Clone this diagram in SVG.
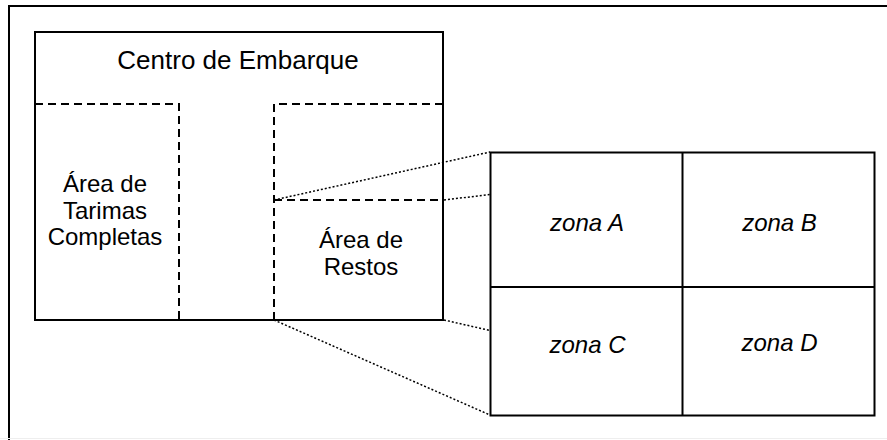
<svg xmlns="http://www.w3.org/2000/svg" width="887" height="440" viewBox="0 0 887 440">
<style>
.solid{fill:none;stroke:#000;stroke-width:2}
.dash{fill:none;stroke:#000;stroke-width:2;stroke-dasharray:8 5}
.dot{fill:none;stroke:#000;stroke-width:1.5;stroke-dasharray:2 2}
.t{font-family:"Liberation Sans",Arial,sans-serif;font-size:24px;fill:#000;text-anchor:middle}
.i{font-style:italic}
</style>
<rect width="887" height="440" fill="#fff"/>
<g id="frame">
<path class="solid" d="M9,441 V6 H888"/>
<line x1="0" y1="438.5" x2="887" y2="438.5" stroke="#eeeeee" stroke-width="1"/>
</g>
<g id="centro">
<rect class="solid" x="35" y="32" width="408" height="288"/>
<text class="t" x="238" y="69" style="font-size:26px">Centro de Embarque</text>
</g>
<g id="tarimas">
<path class="dash" d="M35,104 H179 V320"/>
<text class="t" x="105" y="192">Área de</text>
<text class="t" x="105" y="218.5">Tarimas</text>
<text class="t" x="105" y="245">Completas</text>
</g>
<g id="restos">
<path class="dash" d="M274,320 V104 H443"/>
<path class="dash" d="M274,200 H443"/>
<text class="t" x="361" y="248">Área de</text>
<text class="t" x="361" y="274.5">Restos</text>
</g>
<g id="zonas">
<rect class="solid" x="490.5" y="152.5" width="384" height="263"/>
<line class="solid" x1="682.5" y1="152.5" x2="682.5" y2="415.5"/>
<line class="solid" x1="490.5" y1="287" x2="874.5" y2="287"/>
</g>
<g id="zonaA"><text class="t i" x="587" y="231">zona A</text></g>
<g id="zonaB"><text class="t i" x="779.5" y="231">zona B</text></g>
<g id="zonaC"><text class="t i" x="587.5" y="352.5">zona C</text></g>
<g id="zonaD"><text class="t i" x="779.5" y="351">zona D</text></g>
<g id="connectors">
<line class="dot" x1="274" y1="200" x2="490" y2="152"/>
<line class="dot" x1="444" y1="200" x2="490" y2="194.5"/>
<line class="dot" x1="444" y1="320" x2="490" y2="330.5"/>
<line class="dot" x1="274" y1="320" x2="490" y2="415"/>
</g>
</svg>
